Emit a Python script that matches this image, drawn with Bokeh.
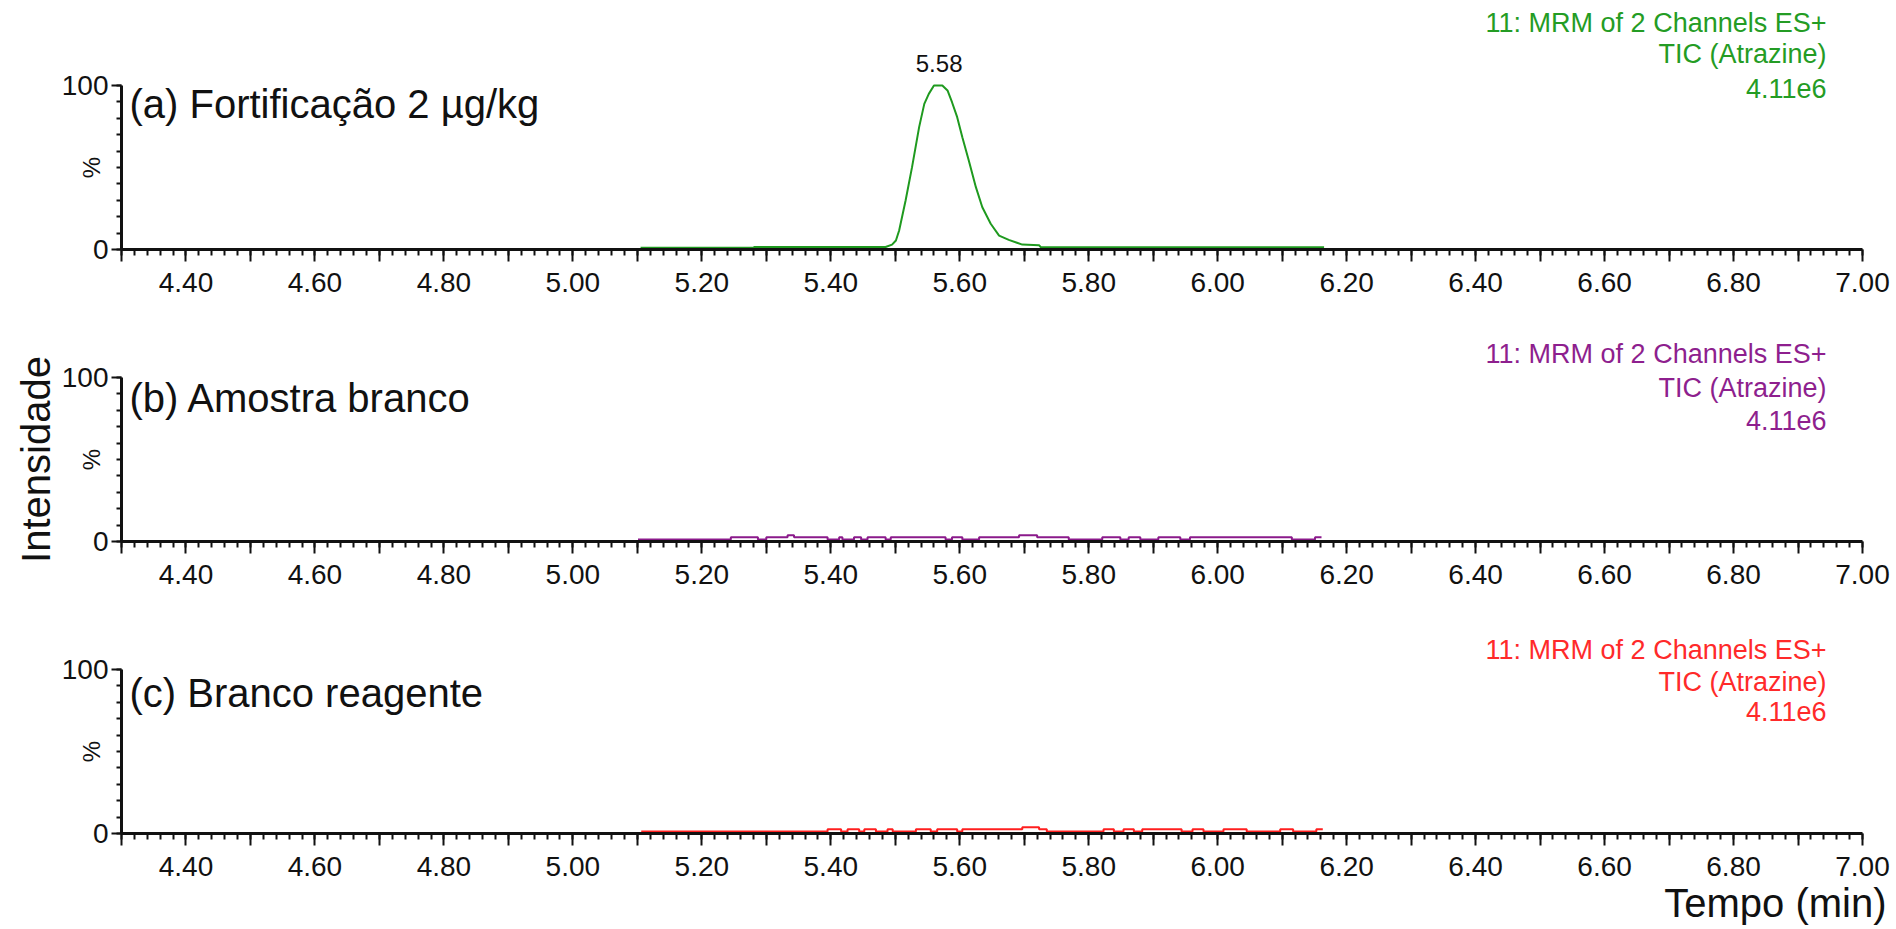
import math
from bokeh.plotting import figure
from bokeh.models import Range1d, FixedTicker, Label
from bokeh.layouts import column
from bokeh.embed import file_html
from bokeh.resources import INLINE

# ---------------- data ----------------
x_major = [round(4.30 + 0.1 * i, 2) for i in range(28)]
x_minor = [round(4.30 + 0.02 * i, 2) for i in range(136)]
x_tick_labels = {t: (f"{t:.2f}" if round(t * 10) % 2 == 0 else "") for t in x_major}
y_major = [0, 100]
y_minor = [0, 10, 20, 30, 40, 50, 60, 70, 80, 90, 100]

panel_titles = ["(a) Fortificação 2 µg/kg", "(b) Amostra branco", "(c) Branco reagente"]
header_lines = ["11: MRM of 2 Channels ES+", "TIC (Atrazine)", "4.11e6"]
axis_y_title = "Intensidade"
axis_x_title = "Tempo (min)"

# (a) fortified sample: retention time (min) and relative intensity (%)
a_time = [5.105, 5.280, 5.281, 5.485, 5.495, 5.501, 5.506, 5.516, 5.526, 5.537,
          5.545, 5.552, 5.560, 5.573, 5.581, 5.588, 5.596, 5.604, 5.614, 5.625,
          5.635, 5.648, 5.661, 5.676, 5.697, 5.723, 5.726, 6.165]
a_val = [1.0, 1.0, 1.5, 1.5, 3.0, 5.5, 11.6, 29.9, 50.2, 74.6,
         88.8, 94.9, 100.0, 100.0, 97.0, 89.8, 80.7, 68.5, 54.3, 38.0,
         25.8, 15.7, 8.5, 5.9, 3.0, 2.6, 1.3, 1.3]
peak_rt = [5.568]
peak_text = ["5.58"]

# (b) blank sample (step trace)
b_time = [5.101, 5.245, 5.287, 5.300, 5.333, 5.343, 5.395, 5.413, 5.418, 5.436,
          5.447, 5.457, 5.485, 5.493, 5.578, 5.588, 5.604, 5.630, 5.692, 5.720,
          5.769, 5.821, 5.849, 5.862, 5.880, 5.908, 5.942, 5.957, 6.115, 6.151, 6.161]
b_val = [1.2, 2.6, 1.2, 2.6, 3.8, 2.6, 1.2, 2.6, 1.2, 2.6,
         1.2, 2.6, 1.2, 2.6, 1.2, 2.6, 1.2, 2.6, 3.8, 2.6,
         1.2, 2.6, 1.2, 2.6, 1.2, 2.6, 1.2, 2.6, 1.2, 2.6, 2.6]

# (c) reagent blank (step trace)
c_time = [5.106, 5.395, 5.416, 5.426, 5.444, 5.452, 5.470, 5.488, 5.496, 5.532,
          5.555, 5.565, 5.596, 5.604, 5.697, 5.723, 5.735, 5.823, 5.839, 5.854,
          5.870, 5.883, 5.944, 5.961, 5.978, 6.009, 6.045, 6.097, 6.117, 6.153, 6.163]
c_val = [1.2, 2.6, 1.2, 2.6, 1.2, 2.6, 1.2, 2.6, 1.2, 2.6,
         1.2, 2.6, 1.2, 2.6, 3.8, 2.6, 1.2, 2.6, 1.2, 2.6,
         1.2, 2.6, 1.2, 2.6, 1.2, 2.6, 1.2, 2.6, 1.2, 2.6, 2.6]

X0, X1 = 4.30, 7.00   # visible time axis
Y0, Y1 = 0, 100       # visible intensity axis

# ---------------- layout / style ----------------
FONT = "Liberation Sans"
INK = "#111111"
colors = ["#1f9a1f", "#8b1a8b", "#ff1f1f"]
text_colors = ["#249c24", "#8e1f8e", "#ff2a2a"]

W = 1896
AX_LEFT, AX_RIGHT = 121, 1862           # pixel of X0 and X1
PX_PER_MIN = (AX_RIGHT - AX_LEFT) / (X1 - X0)
# (canvas height, pixel of y=100, pixel of y=0) for each panel
panel_geo = [(300, 85, 249), (292, 77, 241), (336, 77, 241)]
header_offsets = [[-63, -32, 3], [-24, 10, 43], [-20, 12, 42]]  # px below y=100
title_offsets = [18, 20, 23]

x_start = X0 - AX_LEFT / PX_PER_MIN
x_end = X0 + (W - AX_LEFT) / PX_PER_MIN
x_range = Range1d(x_start, x_end)


def make_panel(i, time, val, mode):
    H, top, bot = panel_geo[i]
    ppu = (bot - top) / (Y1 - Y0)
    y_range = Range1d(Y0 - (H - bot) / ppu, Y1 + top / ppu)
    p = figure(width=W, height=H, x_range=x_range, y_range=y_range,
               output_backend="svg", toolbar_location=None,
               min_border=0, min_border_left=0, min_border_right=0,
               min_border_top=0, min_border_bottom=0)
    p.outline_line_color = None
    p.xgrid.visible = False
    p.ygrid.visible = False
    p.background_fill_color = "white"
    p.border_fill_color = "white"

    if mode == "line":
        p.line(time, val, line_color=colors[i], line_width=2)
    else:
        p.step(time, val, mode="after", line_color=colors[i], line_width=2)

    xa = p.xaxis[0]
    xa.ticker = FixedTicker(ticks=x_major, minor_ticks=x_minor)
    xa.major_label_overrides = x_tick_labels
    xa.bounds = (X0, X1)
    xa.fixed_location = Y0
    ya = p.yaxis[0]
    ya.ticker = FixedTicker(ticks=y_major, minor_ticks=y_minor)
    ya.bounds = (Y0, Y1)
    ya.fixed_location = X0
    for ax in (xa, ya):
        ax.axis_line_width = 3
        ax.axis_line_color = INK
        ax.major_tick_line_width = 2
        ax.minor_tick_line_width = 2
        ax.major_tick_line_color = INK
        ax.minor_tick_line_color = INK
        ax.major_tick_in = 0
        ax.minor_tick_in = 0
        ax.major_label_text_font = FONT
        ax.major_label_text_font_size = "28px"
        ax.major_label_text_color = INK
    xa.major_tick_out = 12
    xa.minor_tick_out = 6
    xa.major_label_standoff = 11
    ya.major_tick_out = 10
    ya.minor_tick_out = 5
    ya.major_label_standoff = 3

    # "%" at mid height
    p.add_layout(Label(x=X0, y=(Y0 + Y1) / 2, x_offset=-30, text="%", angle=math.pi / 2,
                       text_align="center", text_baseline="middle",
                       text_font=FONT, text_font_size="24px", text_color=INK))
    # panel title
    p.add_layout(Label(x=X0, y=Y1, x_offset=8, y_offset=-title_offsets[i],
                       text=panel_titles[i], text_align="left", text_baseline="middle",
                       text_font=FONT, text_font_size="40px", text_color=INK))
    # header lines, top right
    for line, off in zip(header_lines, header_offsets[i]):
        p.add_layout(Label(x=X1, y=Y1, x_offset=-36, y_offset=-off, text=line,
                           text_align="right", text_baseline="middle",
                           text_font=FONT, text_font_size="27px",
                           text_color=text_colors[i]))
    return p


pa = make_panel(0, a_time, a_val, "line")
for rt, txt in zip(peak_rt, peak_text):
    pa.add_layout(Label(x=rt, y=Y1, y_offset=22, text=txt, text_align="center",
                        text_baseline="middle", text_font=FONT, text_font_size="24px",
                        text_color=INK))

pb = make_panel(1, b_time, b_val, "step")
pb.add_layout(Label(x=X0, y=(Y0 + Y1) / 2, x_offset=-86, text=axis_y_title,
                    angle=math.pi / 2, text_align="center", text_baseline="middle",
                    text_font=FONT, text_font_size="40px", text_color=INK))

pc = make_panel(2, c_time, c_val, "step")
pc.add_layout(Label(x=X1, y=Y0, x_offset=24, y_offset=-69, text=axis_x_title,
                    text_align="right", text_baseline="middle", text_font=FONT,
                    text_font_size="40px", text_color=INK))

layout = column(pa, pb, pc, spacing=0)
open("out.html", "w").write(file_html(layout, INLINE))
